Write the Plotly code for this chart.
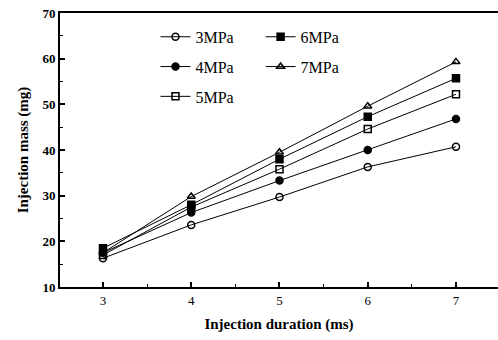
import plotly.graph_objects as go

durations = [3, 4, 5, 6, 7]
mass_3mpa = [16.3, 23.6, 29.7, 36.3, 40.7]
mass_4mpa = [17.5, 26.3, 33.3, 40.0, 46.8]
mass_5mpa = [17.0, 27.5, 35.8, 44.6, 52.2]
mass_6mpa = [18.5, 28.0, 38.0, 47.3, 55.7]
mass_7mpa = [17.5, 29.8, 39.5, 49.6, 59.3]

series = [
    ("3MPa", mass_3mpa, "circle-open", "legend"),
    ("4MPa", mass_4mpa, "circle", "legend"),
    ("5MPa", mass_5mpa, "square-open", "legend"),
    ("6MPa", mass_6mpa, "square", "legend2"),
    ("7MPa", mass_7mpa, "triangle-up-open", "legend2"),
]

FONT = "Liberation Serif"
fig = go.Figure()
for name, vals, sym, leg in series:
    fig.add_trace(go.Scatter(
        x=durations, y=vals, name=name, mode="lines+markers",
        line=dict(color="black", width=1),
        marker=dict(symbol=sym, size=7, color="black",
                    line=dict(color="black", width=1.5)),
        legend=leg, legendgroup=name,
    ))

leg_common = dict(
    font=dict(family=FONT, size=16, color="black"),
    bgcolor="rgba(0,0,0,0)", borderwidth=0,
    tracegroupgap=6, xanchor="left", yanchor="top",
)
fig.update_layout(
    width=498, height=340,
    margin=dict(l=60, r=0, t=13, b=53),
    plot_bgcolor="white", paper_bgcolor="white",
    showlegend=True,
    legend=dict(x=0.218, y=0.975, **leg_common),
    legend2=dict(x=0.458, y=0.975, **leg_common),
    font=dict(family=FONT, color="black"),
)
fig.update_xaxes(
    range=[2.513, 7.476], tickvals=durations,
    ticks="inside", ticklen=5, tickwidth=1.5, tickcolor="black",
    minor=dict(dtick=0.5, ticks="inside", ticklen=3, tickwidth=1, tickcolor="black"),
    showline=True, linewidth=2, linecolor="black", mirror=True,
    showgrid=False, zeroline=False,
    tickfont=dict(family=FONT, size=13, color="black"),
    title=dict(text="<b>Injection duration (ms)</b>", font=dict(family=FONT, size=15, color="black"), standoff=12),
    tickprefix="<b>", ticksuffix="</b>",
)
fig.update_yaxes(
    range=[10, 70], dtick=10,
    ticks="inside", ticklen=5, tickwidth=1.5, tickcolor="black",
    minor=dict(dtick=5, ticks="inside", ticklen=3, tickwidth=1, tickcolor="black"),
    showline=True, linewidth=2, linecolor="black", mirror=False,
    showgrid=False, zeroline=False,
    tickfont=dict(family=FONT, size=13, color="black"),
    title=dict(text="<b>Injection mass (mg)</b>", font=dict(family=FONT, size=15, color="black"), standoff=10),
    tickprefix="<b>", ticksuffix="</b>",
)
fig.write_html("out.html")
